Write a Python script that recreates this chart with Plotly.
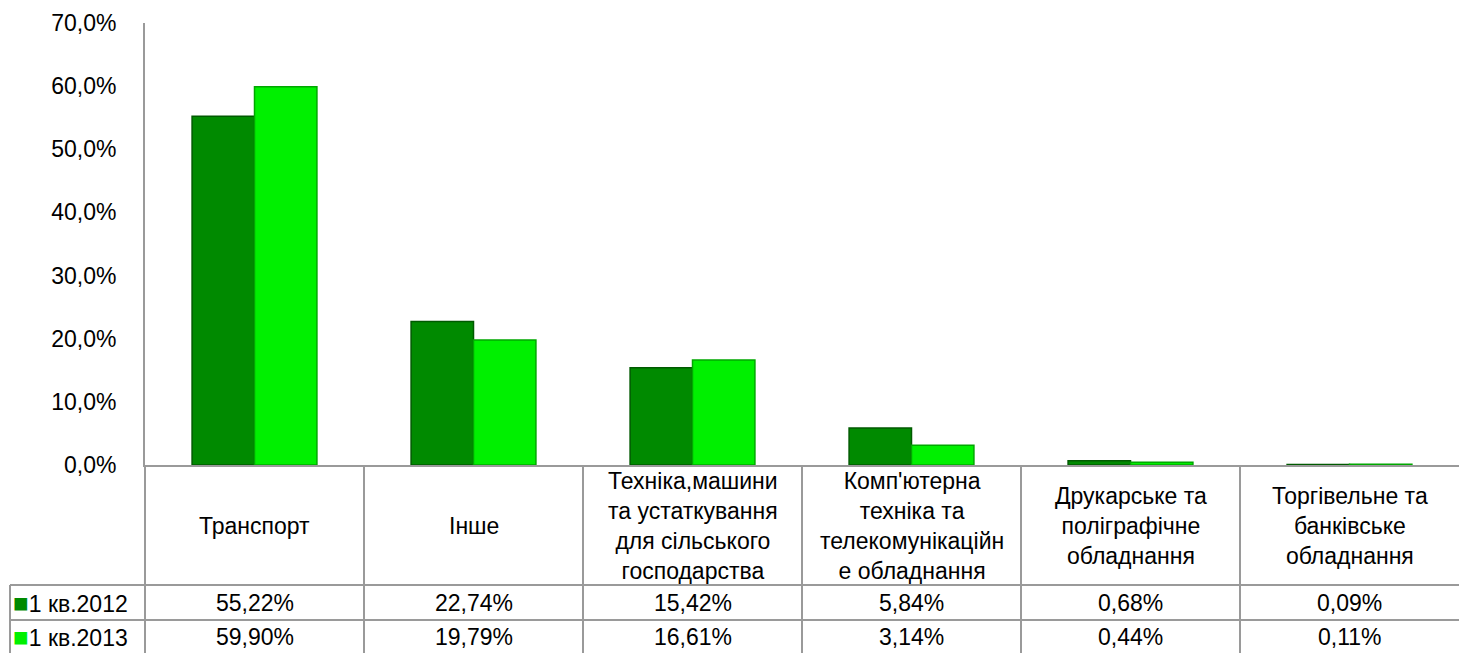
import plotly.graph_objects as go

categories = [
    "Транспорт",
    "Інше",
    "Техніка,машини<br>та устаткування<br>для сільського<br>господарства",
    "Комп'ютерна<br>техніка та<br>телекомунікаційн<br>е обладнання",
    "Друкарське та<br>поліграфічне<br>обладнання",
    "Торгівельне та<br>банківське<br>обладнання",
]
series_names = ["1 кв.2012", "1 кв.2013"]
values_2012 = [55.22, 22.74, 15.42, 5.84, 0.68, 0.09]
values_2013 = [59.90, 19.79, 16.61, 3.14, 0.44, 0.11]
y_ticks = [0, 10, 20, 30, 40, 50, 60, 70]
y_tick_labels = [f"{v:.1f}".replace(".", ",") + "%" for v in y_ticks]

colors = ["#008a00", "#00f000"]
edge_colors = ["#005a00", "#00a800"]
series_values = [values_2012, values_2013]

W, H = 1459, 653
L, R, T, B = 145, 0, 23, 188
plot_h = H - T - B
FONT = "Liberation Sans, Arial, sans-serif"
FS = 23
GRID = "#9a9a9a"


def py(pix):
    # pixel y (from top) -> paper y
    return (H - B - pix) / plot_h


def px(pix):
    # pixel x -> x domain fraction
    return (pix - L) / (W - L - R)


xs = list(range(len(categories)))
fig = go.Figure()
for name, vals, c, ec in zip(series_names, series_values, colors, edge_colors):
    fig.add_trace(go.Bar(
        x=xs, y=vals, name=name,
        marker=dict(color=c, line=dict(color=ec, width=1.5)),
        showlegend=False, hoverinfo="y",
    ))

shapes = []
n = len(categories)
ncol = n
for k in range(ncol):
    shapes.append(dict(type="line", xref="x domain", yref="paper",
                       x0=k / ncol, x1=k / ncol, y0=0, y1=py(H + 5),
                       line=dict(color=GRID, width=2)))
shapes.append(dict(type="line", xref="x domain", yref="paper",
                   x0=px(10), x1=px(10), y0=py(585), y1=py(H + 5),
                   line=dict(color=GRID, width=2)))
for rowy in [585, 620]:
    shapes.append(dict(type="line", xref="x domain", yref="paper",
                       x0=px(10), x1=1, y0=py(rowy), y1=py(rowy),
                       line=dict(color=GRID, width=2)))

annotations = []
fnt = dict(family=FONT, size=FS, color="#000000")
for i, cat in enumerate(categories):
    cx = (i + 0.5) / ncol
    annotations.append(dict(text=cat, xref="x domain", yref="paper", x=cx, y=py(526),
                            xanchor="center", yanchor="middle", showarrow=False,
                            font=fnt, align="center"))
    for vals, rowc in zip(series_values, [603, 637]):
        txt = f"{vals[i]:.2f}".replace(".", ",") + "%"
        annotations.append(dict(text=txt, xref="x domain", yref="paper", x=cx, y=py(rowc),
                                xanchor="center", yanchor="middle", showarrow=False, font=fnt))
for name, c, rowc in zip(series_names, colors, [603, 637]):
    annotations.append(dict(text=f"<span style='color:{c};font-size:26px'>■</span>{name}",
                            xref="x domain", yref="paper", x=px(11), y=py(rowc),
                            xanchor="left", yanchor="middle", showarrow=False, font=fnt))

fig.update_layout(
    width=W, height=H,
    margin=dict(l=L, r=R, t=T, b=B),
    paper_bgcolor="white", plot_bgcolor="white",
    barmode="group", bargap=0.43, bargroupgap=0.0,
    shapes=shapes, annotations=annotations,
    font=dict(family=FONT, size=FS, color="#000000"),
)
fig.update_xaxes(range=[-0.5, n - 0.5], showticklabels=False, ticks="",
                 showgrid=False, zeroline=False, showline=True,
                 linecolor=GRID, linewidth=2)
fig.update_yaxes(range=[0, 70], tickvals=y_ticks, ticktext=y_tick_labels,
                 showgrid=False, zeroline=False, showline=True, linecolor=GRID,
                 linewidth=2, ticks="", ticklabelstandoff=22,
                 tickfont=dict(family=FONT, size=FS, color="#000000"))

fig.write_html("out.html", config={"displayModeBar": False},
               post_script="document.body.style.margin='0';document.body.style.overflow='hidden';")
